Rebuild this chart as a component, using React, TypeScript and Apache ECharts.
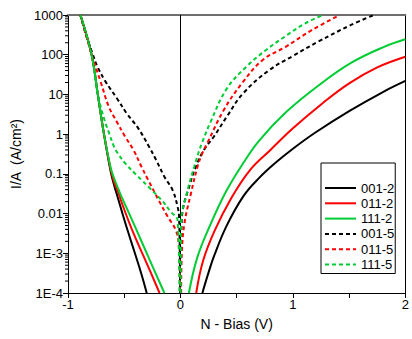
import React, { useEffect, useRef } from "react";
import * as echarts from "echarts";

// ---- tick labels ----
const xTickLabels = ["-1", "0", "1", "2"];
const xTickValues = [-1, 0, 1, 2];
const yTickLabels = ["1E-4", "1E-3", "0.01", "0.1", "1", "10", "100", "1000"];
const yDecades = [-4, -3, -2, -1, 0, 1, 2];
const yMinorMantissas = [2, 3, 4, 5, 6, 7, 8, 9];

// ---- 001-2 (solid black) ----
const biasL_001_2 = [-0.89, -0.79, -0.735, -0.68, -0.62, -0.59, -0.56, -0.5, -0.45, -0.405, -0.35, -0.3];
const curL_001_2 = [1000, 100, 10, 1, 0.112, 0.052, 0.027, 7.1e-3, 2.5e-3, 1e-3, 3.2e-4, 1e-4];
const biasR_001_2 = [0.195, 0.25, 0.3, 0.41, 0.56, 0.7, 0.85, 1.0, 1.2, 1.5, 1.8, 2.0];
const curR_001_2 = [1e-4, 3.3e-4, 8.7e-4, 4.9e-3, 0.0275, 0.079, 0.195, 0.43, 1.1, 3.8, 11.5, 21.9];

// ---- 011-2 (solid red) ----
const biasL_011_2 = [-0.89, -0.79, -0.735, -0.68, -0.62, -0.59, -0.55, -0.52, -0.418, -0.3, -0.186];
const curL_011_2 = [1000, 100, 10, 1, 0.126, 0.063, 0.032, 0.018, 3.2e-3, 5.6e-4, 1e-4];
const biasR_011_2 = [0.14, 0.2, 0.3, 0.45, 0.62, 0.8, 1.0, 1.25, 1.5, 1.75, 2.0];
const curR_011_2 = [1e-4, 6.3e-4, 3.5e-3, 0.024, 0.126, 0.4, 1.4, 5.6, 19, 48, 89];

// ---- 111-2 (solid green) ----
const biasL_111_2 = [-0.89, -0.79, -0.735, -0.68, -0.62, -0.585, -0.55, -0.52, -0.404, -0.274, -0.143];
const curL_111_2 = [1000, 100, 10, 1, 0.141, 0.071, 0.04, 0.025, 4.7e-3, 6.8e-4, 1e-4];
const biasR_111_2 = [0.075, 0.15, 0.27, 0.41, 0.56, 0.7, 0.94, 1.23, 1.52, 1.81, 2.0];
const curR_111_2 = [1e-4, 7.9e-4, 5.6e-3, 0.038, 0.19, 0.69, 3.6, 17, 63, 158, 245];

// ---- 001-5 (dashed black) ----
const biasL_001_5 = [-0.89, -0.84, -0.782, -0.738, -0.666, -0.564, -0.477, -0.375, -0.279, -0.215, -0.143, -0.07, -0.026, -0.012, -0.003];
const curL_001_5 = [1000, 316, 107, 50, 21, 7.9, 3.3, 1.4, 0.48, 0.22, 0.085, 0.039, 0.015, 7.9e-3, 1e-4];
const biasR_001_5 = [0.003, 0.008, 0.02, 0.078, 0.136, 0.209, 0.296, 0.412, 0.558, 0.79, 1.0, 1.226, 1.517, 1.72];
const curR_001_5 = [1e-4, 3.2e-3, 0.012, 0.048, 0.15, 0.4, 0.86, 2.75, 10.7, 41, 93, 214, 562, 1000];

// ---- 011-5 (dashed red) ----
const biasL_011_5 = [-0.89, -0.84, -0.79, -0.71, -0.637, -0.564, -0.49, -0.418, -0.346, -0.288, -0.187, -0.113, -0.041, -0.015, -0.006];
const curL_011_5 = [1000, 316, 100, 21, 4.9, 2.0, 0.85, 0.4, 0.15, 0.071, 0.02, 8.3e-3, 3.8e-3, 1.6e-3, 1e-4];
const biasR_011_5 = [0.006, 0.012, 0.035, 0.093, 0.151, 0.194, 0.238, 0.384, 0.558, 0.732, 0.935, 1.168, 1.415];
const curR_011_5 = [1e-4, 1e-3, 5.6e-3, 0.032, 0.15, 0.33, 0.59, 4.0, 21, 74, 158, 417, 1000];

// ---- 111-5 (dashed green) ----
const biasL_111_5 = [-0.89, -0.79, -0.735, -0.68, -0.634, -0.593, -0.564, -0.488, -0.39, -0.343, -0.288, -0.169, -0.085, -0.026, -0.008];
const curL_111_5 = [1000, 100, 10, 2.5, 1.05, 0.5, 0.35, 0.18, 0.093, 0.069, 0.048, 0.022, 0.011, 6.9e-3, 1e-4];
const biasR_111_5 = [0.002, 0.005, 0.064, 0.122, 0.166, 0.194, 0.267, 0.412, 0.587, 0.761, 0.935, 1.11, 1.27];
const curR_111_5 = [1e-4, 5.6e-3, 0.039, 0.15, 0.38, 0.63, 2.0, 14, 50, 132, 295, 617, 1000];

const seriesNames = ["001-2", "011-2", "111-2", "001-5", "011-5", "111-5"];
const seriesColors = ["#000000", "#ff0000", "#00cc33", "#000000", "#ff0000", "#00cc33"];
const seriesDashed = [false, false, false, true, true, true];
const branches = [
  [biasL_001_2, curL_001_2, biasR_001_2, curR_001_2],
  [biasL_011_2, curL_011_2, biasR_011_2, curR_011_2],
  [biasL_111_2, curL_111_2, biasR_111_2, curR_111_2],
  [biasL_001_5, curL_001_5, biasR_001_5, curR_001_5],
  [biasL_011_5, curL_011_5, biasR_011_5, curR_011_5],
  [biasL_111_5, curL_111_5, biasR_111_5, curR_111_5],
];

const FONT = "'Liberation Sans', Arial, sans-serif";

function buildData(b: number[][]) {
  const [xl, yl, xr, yr] = b;
  const out: any[] = [];
  xl.forEach((x, i) => out.push([x, yl[i]]));
  out.push(["-", "-"]);
  xr.forEach((x, i) => out.push([x, yr[i]]));
  return out;
}

export default function App() {
  const ref = useRef<HTMLDivElement>(null);
  useEffect(() => {
    document.body.style.margin = "0";
    const chart = echarts.init(ref.current!, null, { renderer: "svg" });
    const minorTicks: number[][] = [];
    yDecades.forEach((d) => yMinorMantissas.forEach((m) => minorTicks.push([-1, m * Math.pow(10, d)])));

    const lineSeries = seriesNames.map((name, i) => ({
      name,
      type: "line",
      data: buildData(branches[i]),
      showSymbol: false,
      symbol: "none",
      smooth: 0.4,
      connectNulls: false,
      clip: true,
      color: seriesColors[i],
      lineStyle: { color: seriesColors[i], width: 2, type: seriesDashed[i] ? [4, 3] : "solid" },
      z: 3,
      ...(i === 0
        ? {
            markLine: {
              silent: true,
              symbol: "none",
              label: { show: false },
              lineStyle: { color: "#000", width: 1, type: "solid" },
              data: [{ xAxis: 0 }],
              z: 2,
            },
          }
        : {}),
    }));

    chart.setOption({
      animation: false,
      backgroundColor: "#fff",
      grid: { left: 68, right: 1, top: 15, bottom: 46 },
      legend: {
        data: seriesNames,
        orient: "vertical",
        left: 321,
        top: 163,
        itemWidth: 31,
        itemHeight: 14,
        itemGap: 2.3,
        padding: [18.5, 1, 2.5, 3],
        borderColor: "#000",
        borderWidth: 1,
        backgroundColor: "#fff",
        itemStyle: { opacity: 0 },
        textStyle: { fontSize: 13, color: "#000", fontFamily: FONT },
      },
      xAxis: [
        {
          type: "value",
          min: -1,
          max: 2,
          interval: 0.5,
          position: "bottom",
          name: "N - Bias (V)",
          nameLocation: "middle",
          nameGap: 24,
          nameTextStyle: { fontSize: 14, color: "#000", fontFamily: FONT },
          axisLine: { onZero: false, lineStyle: { color: "#000", width: 1 } },
          axisTick: { show: true, inside: false, length: 5, lineStyle: { color: "#000" } },
          axisLabel: {
            margin: 5,
            fontSize: 13,
            color: "#000",
            fontFamily: FONT,
            showMaxLabel: true,
            showMinLabel: true,
            alignMinLabel: "center",
            alignMaxLabel: "center",
            formatter: (v: number) => {
              const k = xTickValues.indexOf(v);
              return k >= 0 ? xTickLabels[k] : "";
            },
          },
          splitLine: { show: false },
        },
        {
          type: "value",
          min: -1,
          max: 2,
          position: "top",
          axisLine: { onZero: false, lineStyle: { color: "#6e6e6e", width: 2 } },
          axisTick: { show: false },
          axisLabel: { show: false },
          splitLine: { show: false },
        },
      ],
      yAxis: [
        {
          type: "log",
          logBase: 10,
          min: 1e-4,
          max: 1000,
          splitNumber: 7,
          position: "left",
          name: "I/A  (A/cm²)",
          nameLocation: "middle",
          nameGap: 43,
          nameTextStyle: { fontSize: 14, color: "#000", fontFamily: FONT },
          axisLine: { onZero: false, lineStyle: { color: "#000", width: 1 } },
          axisTick: { show: true, inside: false, length: 5, lineStyle: { color: "#000" } },
          axisLabel: {
            margin: 5,
            fontSize: 13,
            color: "#000",
            fontFamily: FONT,
            formatter: (v: number) => {
              const k = Math.round(Math.log10(v)) + 4;
              return yTickLabels[k] ?? "";
            },
          },
          splitLine: { show: false },
        },
        {
          type: "value",
          min: 0,
          max: 1,
          position: "right",
          axisLine: { onZero: false, lineStyle: { color: "#000", width: 1 } },
          axisTick: { show: false },
          axisLabel: { show: false },
          splitLine: { show: false },
        },
      ],
      series: [
        ...lineSeries,
        {
          type: "custom",
          name: "minorTicks",
          xAxisIndex: 0,
          yAxisIndex: 0,
          clip: false,
          silent: true,
          data: minorTicks,
          renderItem: (params: any, api: any) => {
            const p = api.coord([api.value(0), api.value(1)]);
            return {
              type: "line",
              shape: { x1: p[0] - 3, y1: p[1], x2: p[0], y2: p[1] },
              style: { stroke: "#000", lineWidth: 1 },
            };
          },
        },
      ],
    });
    return () => chart.dispose();
  }, []);
  return <div ref={ref} style={{ width: 412, height: 339 }} />;
}
